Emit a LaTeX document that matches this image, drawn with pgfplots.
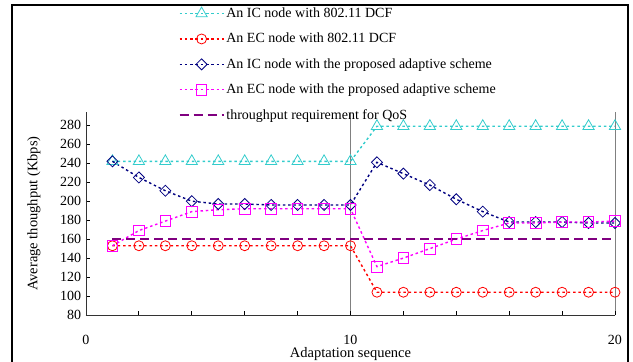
\documentclass[border=0pt]{standalone}
\usepackage{fontspec}
\setmainfont{Liberation Serif}
\usepackage{pgfplots}
\pgfplotsset{compat=1.18}
\definecolor{cyanT}{RGB}{51,204,204}
\definecolor{navyB}{RGB}{0,0,128}
\definecolor{magP}{RGB}{255,0,255}
\definecolor{purpQ}{RGB}{128,0,128}
\begin{document}
\fontsize{14}{16}\selectfont
\begin{tikzpicture}
\useasboundingbox (0,0) rectangle (633pt,-362pt);
\draw[line width=1.5pt] (12pt,-370pt) -- (12pt,-5pt) -- (628pt,-5pt) -- (628pt,-370pt);
\begin{axis}[
  at={(86pt,-315pt)}, anchor=south west,
  scale only axis, width=529pt, height=203pt,
  xmin=0, xmax=20, ymin=80, ymax=294,
  axis lines=left, axis line style={-, line width=0.8pt, black!80},
  xtick={0,2,...,20}, xticklabels={0,,,,,10,,,,,20},
  ytick={80,100,...,280},
  tick align=inside, major tick length=4pt,
  tick style={black, line width=0.8pt},
  xticklabel style={yshift=-15pt},
  /pgf/number format/assume math mode=true,
  ticklabel style={font=\fontsize{14}{16}\selectfont},
  label style={font=\fontsize{14.5}{16}\selectfont},
  xlabel={Adaptation sequence},
  ylabel={Average thoughput (Kbps)},
  xlabel style={at={(0.5,0)}, yshift=-28pt, anchor=north},
  ylabel style={yshift=10pt},
  extra x ticks={10,20}, extra x tick labels={},
  extra x tick style={grid=major, major grid style={gray, line width=0.6pt}},
  legend style={draw=none, fill=none, at={(0.175,1.525)}, anchor=north west,
    font=\fontsize{14}{16}\selectfont, row sep=9.6pt, inner sep=0pt,
    legend cell align=left},
  legend image code/.code={
    \draw[#1, mark=none] (0pt,0pt) -- (44pt,0pt);
    \draw[#1, solid] plot coordinates {(22pt,0pt)};
  },
  every axis plot/.append style={line width=1.4pt, dash pattern=on 2.5pt off 2.8pt},
  clip=false,
]
\addplot[cyanT, mark=triangle, mark size=6.5pt, mark options={solid, line width=0.8pt}] coordinates {
(1,242)(2,242)(3,242)(4,242)(5,242)(6,242)(7,242)(8,242)(9,242)(10,242)
(11,279)(12,279)(13,279)(14,279)(15,279)(16,279)(17,279)(18,279)(19,279)(20,279)};
\addlegendentry{An IC node with 802.11 DCF}
\addplot[red, mark=o, mark size=5pt, mark options={solid, line width=0.8pt}] coordinates {
(1,153)(2,153)(3,153)(4,153)(5,153)(6,153)(7,153)(8,153)(9,153)(10,153)
(11,104)(12,104)(13,104)(14,104)(15,104)(16,104)(17,104)(18,104)(19,104)(20,104)};
\addlegendentry{An EC node with 802.11 DCF}
\addplot[navyB, mark=square, mark size=3.9pt, mark options={solid, rotate=45, line width=0.8pt}] coordinates {
(1,242)(2,225)(3,211)(4,200)(5,197)(6,197)(7,196)(8,196)(9,196)(10,196)
(11,241)(12,229)(13,217)(14,202)(15,189)(16,178)(17,178)(18,178)(19,177)(20,177)};
\addlegendentry{An IC node with the proposed adaptive scheme}
\addplot[magP, mark=square, mark size=5.3pt, mark options={solid, line width=0.8pt}] coordinates {
(1,153)(2,169)(3,179)(4,189)(5,191)(6,192)(7,192)(8,192)(9,192)(10,192)
(11,131)(12,140)(13,150)(14,160)(15,169)(16,177)(17,177)(18,178)(19,178)(20,179)};
\addlegendentry{An EC node with the proposed adaptive scheme}
\addplot[purpQ, mark=none, line width=1.6pt, dash pattern=on 9pt off 5pt] coordinates {(1,160)(20,160)};
\addlegendentry{throughput requirement for QoS}
\end{axis}
\end{tikzpicture}
\end{document}
